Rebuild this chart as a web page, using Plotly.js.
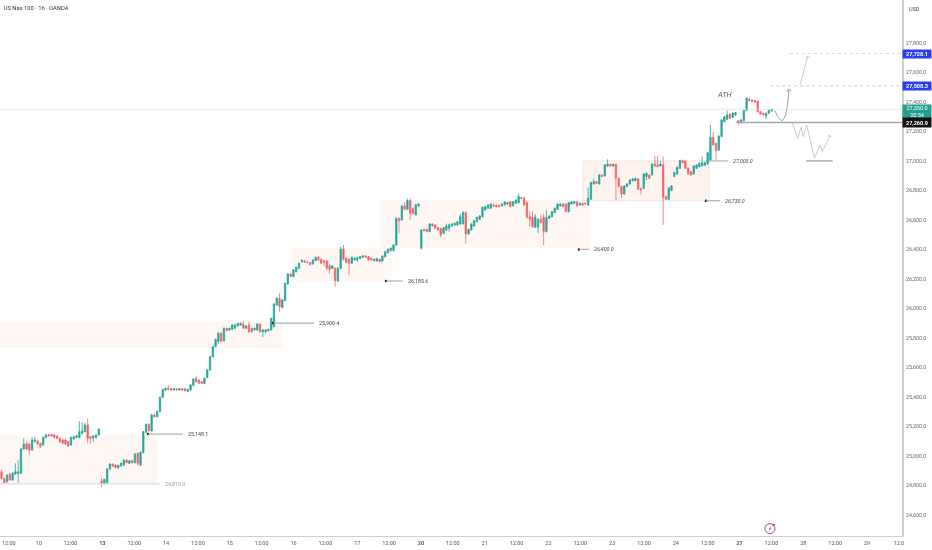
<!DOCTYPE html>
<html><head><meta charset="utf-8">
<script src="https://cdn.plot.ly/plotly-3.0.1.min.js"></script>
<style>html,body{margin:0;padding:0;background:#fff}#c{width:932px;height:550px;filter:blur(0.35px)}</style>
</head><body><div id="c"></div>
<script>
const opens=[
24893,24848,24825,24877,24837,24877,24880,24882,25047,25081,
25081,25040,25097,25100,25085,25074,25126,25144,25146,25142,
25135,25119,25108,25108,25097,25074,25115,25126,25126,25153,
25164,25210,25130,25121,25126,25142,24830,24810,24818,24911,
24945,24938,24920,24932,24938,24972,24950,24968,24954,25017,
24938,25022,25160,25214,25169,25277,25266,25300,25397,25447,
25460,25456,25447,25456,25447,25456,25456,25438,25447,25478,
25526,25514,25503,25492,25533,25582,25673,25741,25775,25831,
25781,25865,25854,25858,25865,25881,25888,25894,25865,25887,
25865,25854,25854,25894,25842,25842,25849,25854,25877,26023,
26069,26007,26053,26166,26234,26216,26249,26272,26317,26324,
26315,26311,26301,26324,26347,26333,26324,26322,26290,26272,
26272,26186,26272,26403,26340,26333,26306,26329,26329,26340,
26347,26356,26351,26340,26324,26322,26333,26322,26351,26378,
26392,26392,26430,26611,26600,26695,26672,26731,26679,26634,
26695,26408,26536,26536,26521,26573,26566,26550,26543,26509,
26532,26543,26559,26566,26566,26573,26573,26650,26505,26532,
26559,26589,26604,26622,26668,26679,26679,26701,26699,26699,
26695,26702,26708,26724,26695,26713,26717,26753,26747,26717,
26622,26618,26550,26550,26604,26618,26521,26611,26622,26650,
26672,26695,26708,26708,26656,26708,26713,26724,26701,26713,
26713,26701,26740,26844,26860,26844,26905,26898,26966,26977,
26966,26977,26882,26826,26776,26826,26844,26866,26866,26878,
26814,26814,26894,26905,26905,26979,26973,26966,26973,26758,
26740,26799,26894,26912,26950,27002,27000,26950,26927,26912,
26950,26961,26966,26970,26979,27007,27160,27120,27074,27165,
27266,27282,27318,27296,27312,27273,27260,27273,27341,27418,
27413,27409,27404,27334,27323,27305,27323,27339];
const closes=[
24848,24818,24870,24837,24882,24893,24893,25047,25081,25047,
25036,25108,25108,25081,25062,25126,25142,25135,25135,25126,
25119,25097,25085,25081,25067,25126,25130,25135,25164,25169,
25210,25119,25119,25135,25142,25182,24810,24841,24911,24945,
24932,24920,24936,24950,24972,24954,24968,24954,25013,24950,
25024,25164,25214,25171,25277,25266,25300,25397,25451,25458,
25451,25447,25456,25447,25456,25447,25442,25451,25481,25521,
25503,25492,25492,25526,25582,25673,25741,25790,25831,25779,
25865,25849,25865,25887,25887,25899,25899,25865,25881,25842,
25842,25865,25894,25842,25854,25854,25858,25933,26030,26069,
26012,26057,26170,26234,26216,26261,26279,26306,26324,26313,
26311,26297,26329,26347,26329,26306,26311,26272,26265,26288,
26188,26272,26401,26333,26311,26306,26347,26340,26344,26351,
26356,26347,26329,26329,26333,26338,26317,26356,26385,26401,
26408,26430,26611,26595,26695,26672,26731,26645,26645,26701,
26708,26532,26527,26521,26573,26559,26543,26532,26498,26548,
26559,26566,26573,26577,26588,26622,26650,26505,26536,26573,
26595,26618,26627,26686,26690,26701,26708,26695,26690,26690,
26708,26722,26717,26690,26724,26735,26758,26747,26701,26618,
26604,26555,26618,26604,26582,26521,26616,26627,26656,26679,
26708,26708,26690,26656,26717,26722,26724,26695,26713,26701,
26708,26747,26853,26860,26848,26905,26894,26973,26979,26966,
26977,26882,26826,26776,26830,26844,26871,26878,26882,26808,
26803,26912,26916,26882,26979,26966,26961,26979,26753,26740,
26815,26830,26921,26957,27002,26988,26950,26912,26905,26966,
26973,26984,26988,26988,27056,27160,27108,27070,27169,27278,
27300,27312,27289,27323,27328,27260,27278,27341,27425,27409,
27402,27400,27334,27318,27312,27323,27341,27350];
const highs=[
24905,24850,24875,24885,24890,24950,24970,25055,25120,25100,
25090,25125,25130,25110,25090,25130,25150,25150,25150,25146,
25140,25125,25115,25112,25100,25130,25135,25145,25235,25230,
25225,25255,25135,25140,25146,25185,24850,24845,24915,24950,
24950,24945,24940,24955,24978,24980,24972,24975,25020,25025,
25030,25170,25220,25220,25285,25290,25310,25402,25455,25465,
25480,25462,25460,25460,25460,25460,25460,25456,25486,25526,
25540,25518,25508,25530,25590,25678,25746,25795,25840,25836,
25870,25870,25870,25892,25895,25903,25905,25915,25886,25910,
25870,25870,25900,25900,25860,25860,25864,25938,26035,26075,
26103,26065,26175,26239,26240,26266,26284,26312,26335,26330,
26322,26315,26334,26352,26355,26338,26330,26326,26300,26294,
26280,26280,26420,26430,26345,26340,26352,26345,26350,26356,
26362,26360,26355,26345,26338,26343,26338,26360,26390,26406,
26413,26435,26616,26615,26700,26720,26745,26745,26684,26710,
26715,26535,26540,26540,26578,26578,26570,26554,26548,26553,
26575,26575,26578,26582,26592,26640,26660,26660,26540,26578,
26600,26622,26632,26690,26695,26706,26712,26710,26705,26704,
26713,26727,26722,26728,26728,26740,26776,26758,26760,26725,
26660,26660,26640,26610,26635,26640,26668,26632,26660,26684,
26712,26712,26715,26713,26722,26727,26730,26730,26718,26718,
26720,26820,26860,26880,26865,26910,26910,26978,27011,26982,
26982,26985,26888,26830,26835,26849,26876,26885,26888,26884,
26820,26917,26922,26910,26984,27034,27034,27000,27029,26764,
26825,26836,26927,26962,27007,27010,27006,26955,26932,26971,
26978,26989,27029,26994,27061,27244,27199,27126,27174,27283,
27306,27341,27323,27330,27333,27278,27283,27346,27430,27430,
27418,27414,27408,27339,27328,27328,27346,27355];
const lows=[
24841,24812,24820,24830,24830,24870,24815,24880,25040,25040,
25005,25035,25090,25075,25055,25070,25120,25130,25130,25120,
25115,25085,25080,25075,25060,25070,25110,25120,25120,25145,
25160,25085,25085,25095,25115,25140,24787,24805,24812,24905,
24925,24915,24915,24928,24932,24950,24945,24950,24950,24933,
24930,25018,25155,25165,25165,25260,25260,25295,25392,25440,
25445,25442,25442,25442,25442,25442,25436,25432,25442,25473,
25498,25488,25487,25488,25526,25577,25668,25736,25760,25774,
25776,25845,25849,25853,25860,25876,25884,25860,25860,25835,
25835,25850,25850,25835,25805,25830,25844,25850,25870,26018,
25978,26000,26048,26161,26210,26210,26244,26267,26310,26308,
26305,26290,26296,26319,26322,26300,26285,26260,26235,26267,
26148,26180,26265,26325,26306,26225,26300,26324,26315,26335,
26342,26342,26324,26324,26320,26316,26312,26316,26346,26373,
26387,26387,26425,26510,26595,26665,26667,26600,26640,26630,
26690,26400,26522,26516,26516,26554,26538,26527,26480,26504,
26525,26520,26554,26561,26561,26568,26568,26440,26500,26527,
26554,26584,26599,26617,26663,26674,26674,26690,26685,26685,
26690,26697,26703,26685,26690,26708,26712,26742,26696,26610,
26555,26545,26545,26510,26577,26430,26515,26606,26617,26645,
26667,26690,26685,26651,26651,26703,26708,26690,26696,26696,
26703,26696,26735,26838,26843,26839,26889,26893,26961,26961,
26961,26731,26821,26747,26771,26821,26839,26861,26861,26803,
26770,26809,26870,26877,26900,26961,26956,26961,26566,26735,
26735,26794,26889,26907,26945,26983,26945,26907,26900,26907,
26945,26956,26961,26965,26974,27000,27100,27007,27069,27160,
27261,27277,27284,27291,27307,27244,27255,27268,27336,27404,
27397,27395,27329,27313,27307,27282,27318,27334];

const xTickLabels=["12:00","10","12:00","<b>13</b>","12:00","14","12:00","15","12:00","16","12:00","17","12:00","<b>20</b>","12:00","21","12:00","22","12:00","23","12:00","24","12:00","<b>27</b>","12:00","28","12:00","29","12:0"];
const yTickPrices=[24600,24800,25000,25200,25400,25600,25800,26000,26200,26400,26600,26800,27000,27200,27400,27600,27800];

// Shaded zones: start bar, end bar, low price, high price
const zoneStart=[-1,-1,104.5,136.2,209.2];
const zoneEnd=[56,101,140.5,211.7,254.5];
const zoneLow=[24810,25732,26185,26410,26730];
const zoneHigh=[25142,25908,26410,26735,27000];

// Marked levels
const levelPrice=[24810,25148.1,25900.4,26185.6,26400,26730,27000];
const levelText=["24,810.0","25,148.1","25,900.4","26,185.6","<i>26,400.0</i>","<i>26,730.0</i>","<i>27,000.0</i>"];
const levelStart=[-1,52.7,97.7,138.3,207.7,253.4,254.5];
const levelEnd=[57,65.3,112.4,144.4,211.4,258.5,261.3];
const levelColor=["#dddddd","#b0b0b0","#b0b0b0","#b0b0b0","#b0b0b0","#b0b0b0","#b0b0b0"];
const levelTextColor=["#9a9a9a","#444","#444","#444","#444","#444","#444"];

// Projection drawings
const curveBar=[278.2,278.9,279.6,280.8,282.0,282.8,283.2,null,282.5,283.2,284];
const curvePrice=[27341,27311,27289,27273,27311,27391,27486,null,27470,27486,27474];
const upBar=[287.2,290,null,289.2,290,290.8];
const upPrice=[27515,27712,null,27693,27712,27696];
const downBar=[284.4,286.4,287.6,288.4,289.6,292.4,294.4,295.2,298,null,297.2,298,298.6];
const downPrice=[27260,27153,27228,27165,27244,27018,27108,27063,27171,null,27169,27171,27165];

const barIdx=opens.map((_,i)=>i);
const tickVals=xTickLabels.map((_,k)=>1.9+11.46*k);
const fmt=v=>v.toLocaleString('en-US',{minimumFractionDigits:1,maximumFractionDigits:1});
const FONT="Roboto, 'Liberation Sans', sans-serif";

const traces=[
 {type:'candlestick',x:barIdx,open:opens,high:highs,low:lows,close:closes,
  increasing:{line:{color:'#26a69a',width:0.8},fillcolor:'#26a69a'},
  decreasing:{line:{color:'#ef6a72',width:0.8},fillcolor:'#ef5350'},
  whiskerwidth:0,hoverinfo:'skip'},
 {type:'scatter',mode:'lines',x:curveBar,y:curvePrice,line:{color:'#8f8f8f',width:0.9,shape:'spline',smoothing:0.6},hoverinfo:'skip'},
 {type:'scatter',mode:'lines',x:upBar,y:upPrice,line:{color:'#c4c4c4',width:0.9},hoverinfo:'skip'},
 {type:'scatter',mode:'lines',x:downBar,y:downPrice,line:{color:'#c4c4c4',width:0.9},hoverinfo:'skip'},
 {type:'scatter',mode:'markers',x:levelStart.slice(1,6),y:levelPrice.slice(1,6),marker:{size:2.5,color:'#111'},hoverinfo:'skip'}
];

const hLine=(x0,x1,y,color,width,dash)=>({type:'line',xref:'x',yref:'y',x0,x1,y0:y,y1:y,line:{color,width,dash:dash||'solid'}});
const shapes=[];
zoneStart.forEach((s,i)=>shapes.push({type:'rect',xref:'x',yref:'y',x0:s,x1:zoneEnd[i],y0:zoneLow[i],y1:zoneHigh[i],
  fillcolor:i===4?'rgba(250,205,190,0.24)':'rgba(250,205,190,0.17)',line:{width:i===4?0.6:0,color:'#e8e0dc'},layer:'below'}));
levelPrice.forEach((p,i)=>shapes.push(hLine(levelStart[i],levelEnd[i],p,levelColor[i],1.2)));
shapes.push(hLine(-1,325,27350,'#cfe6e2',0.7));
shapes.push(hLine(264.2,325,27260.9,'#a8a8a8',1.5));
shapes.push(hLine(276.5,325,27508.3,'#bdbdbd',0.8,'dot'));
shapes.push(hLine(283.5,325,27728.1,'#cfcfcf',0.8,'dot'));
shapes.push(hLine(289.4,299,27000,'#b5b5b5',1.6));
shapes.push({type:'circle',xref:'x',yref:'y',xsizemode:'pixel',ysizemode:'pixel',xanchor:276.4,yanchor:24507,x0:-5,x1:5,y0:-5,y1:5,line:{color:'#9c27b0',width:0.9},fillcolor:'#fff'});
shapes.push({type:'circle',xref:'x',yref:'y',xsizemode:'pixel',ysizemode:'pixel',xanchor:276.4,yanchor:24507,x0:2.5,x1:5,y0:2.5,y1:5,line:{width:0},fillcolor:'#f23645'});

const annos=[];
levelPrice.forEach((p,i)=>annos.push({x:levelEnd[i],y:p,xref:'x',yref:'y',text:levelText[i],showarrow:false,xanchor:'left',xshift:3,
  font:{family:FONT,size:5.3,color:levelTextColor[i]}}));
annos.push({x:260.3,y:27447,xref:'x',yref:'y',text:'<i>ATH</i>',showarrow:false,font:{family:FONT,size:7.5,color:'#555'}});
annos.push({x:276.4,y:24507,xref:'x',yref:'y',text:'⚡',showarrow:false,font:{family:"'DejaVu Sans'",size:6,color:'#9c27b0'}});
// First time label sits against the left edge, so it is placed as a note under the axis.
annos.push({x:-0.3,y:0,xref:'x',yref:'paper',xanchor:'left',yanchor:'top',yshift:-3,text:xTickLabels[0],showarrow:false,borderpad:0,
  font:{family:FONT,size:5.5,color:'#555'}});
const tag=(p,text,bg,h,ys)=>({xref:'paper',yref:'y',x:1,y:p,xanchor:'left',xshift:0,yshift:ys||0,text,showarrow:false,bgcolor:bg,width:28,height:h,align:'center',borderpad:0,
  font:{family:FONT,size:5.5,color:'#fff'}});
annos.push(tag(27728.1,'<b>27,728.1</b>','#2a3ff0',8));
annos.push(tag(27508.3,'<b>27,508.3</b>','#2a3ff0',8));
annos.push(tag(27350,'27,350.0<br>20:54','#22a08f',13,-2.5));
annos.push(tag(27260.9,'<b>27,260.9</b>','#111111',9));
annos.push({xref:'paper',yref:'paper',x:1,y:1,xanchor:'left',yanchor:'top',xshift:5,yshift:-4,text:'USD',showarrow:false,font:{family:FONT,size:5.5,color:'#444'}});

Plotly.newPlot('c',traces,{
 width:932,height:550,
 margin:{l:0,r:30,t:0,b:14,pad:0},
 paper_bgcolor:'#fff',plot_bgcolor:'#fff',showlegend:false,
 title:{text:'US Nas 100 · 1h · OANDA',x:0.004,xanchor:'left',y:0.985,yanchor:'middle',font:{family:FONT,size:5.8,color:'#333'}},
 xaxis:{type:'linear',range:[-0.54,323.9],rangeslider:{visible:false},showgrid:false,zeroline:false,
   showline:true,linecolor:'#cfcfcf',linewidth:1,tickmode:'array',tickvals:tickVals.slice(1),ticktext:xTickLabels.slice(1),ticks:'',
   tickfont:{family:FONT,size:5.5,color:'#555'},ticklabelstandoff:1,fixedrange:true},
 yaxis:{side:'right',range:[24457,28091],showgrid:false,zeroline:false,showline:true,linecolor:'#cfcfcf',linewidth:2,
   tickmode:'array',tickvals:yTickPrices,ticktext:yTickPrices.map(fmt),ticks:'',tickfont:{family:FONT,size:5.3,color:'#666'},
   ticklabelstandoff:1,fixedrange:true},
 shapes,annotations:annos
},{staticPlot:true,displayModeBar:false});
</script>
</body></html>
